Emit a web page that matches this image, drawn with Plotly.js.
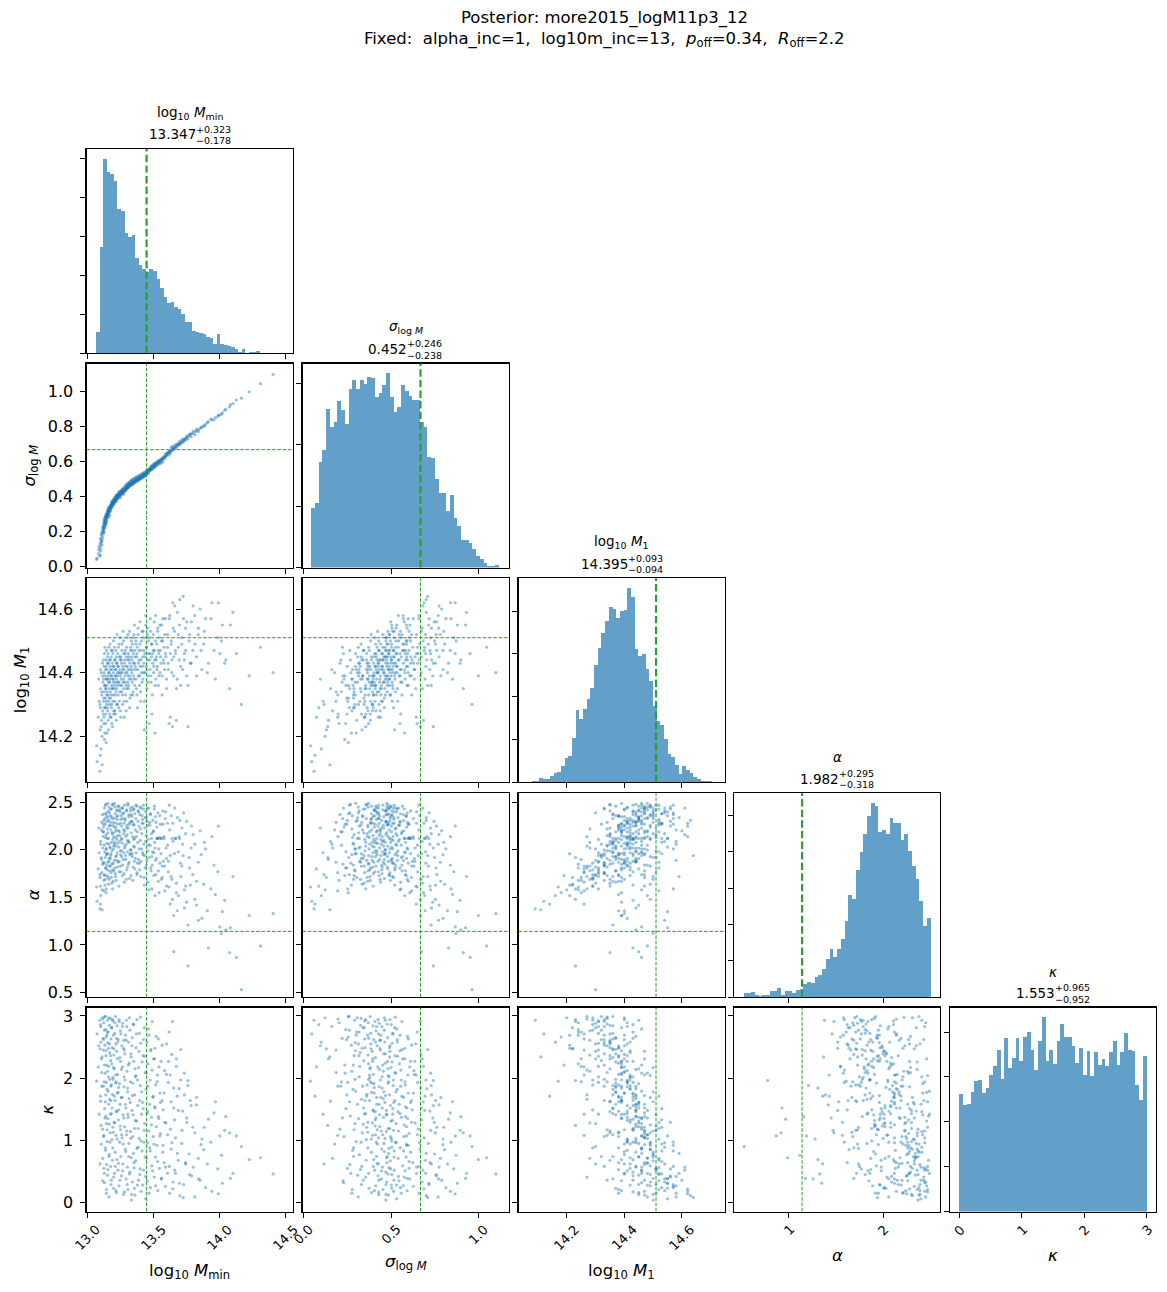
<!DOCTYPE html>
<html>
<head>
<meta charset="utf-8">
<script src="https://cdn.plot.ly/plotly-3.0.1.min.js"></script>
<style>
  html, body { margin: 0; padding: 0; background: #ffffff; }
  #chart { width: 1167px; height: 1292px; }
</style>
</head>
<body>
<div id="chart"></div>
<script>
// ---------------------------------------------------------------------------
// Parameters of the HOD fit (order of rows / columns in the corner plot)
// ---------------------------------------------------------------------------
const paramLabels = [
  'log<sub>10</sub> <i>M</i><sub>min</sub>',
  '<i>σ</i><sub>log <i>M</i></sub>',
  'log<sub>10</sub> <i>M</i><sub>1</sub>',
  '<i>α</i>',
  '<i>κ</i>'
];
const medianText = ['13.347', '0.452', '14.395', '1.982', '1.553'];
const upperErrText = ['+0.323', '+0.246', '+0.093', '+0.295', '+0.965'];
const lowerErrText = ['−0.178', '−0.238', '−0.094', '−0.318', '−0.952'];

// Reference (input) values, drawn as green dashed lines; κ has none
const truthValues = [13.447, 0.668, 14.510, 1.143, null];

// Axis limits: columns (x) and rows (y)
const colRanges = [[12.992, 14.552], [-0.005, 1.17], [14.032, 14.748], [0.426, 2.605], [-0.15, 3.15]];
const rowRanges = [null, [-0.005, 1.16], [14.055, 14.697], [0.45, 2.595], [-0.144, 3.135]];

// Tick positions and labels
const colTickVals = [[13.0, 13.5, 14.0, 14.5], [0.0, 0.5, 1.0], [14.2, 14.4, 14.6], [1, 2], [0, 1, 2, 3]];
const colTickText = [['13.0', '13.5', '14.0', '14.5'], ['0.0', '0.5', '1.0'], ['14.2', '14.4', '14.6'], ['1', '2'], ['0', '1', '2', '3']];
const rowTickVals = [null, [0.0, 0.2, 0.4, 0.6, 0.8, 1.0], [14.2, 14.4, 14.6], [0.5, 1.0, 1.5, 2.0, 2.5], [0, 1, 2, 3]];
const rowTickText = [null, ['0.0', '0.2', '0.4', '0.6', '0.8', '1.0'], ['14.2', '14.4', '14.6'], ['0.5', '1.0', '1.5', '2.0', '2.5'], ['0', '1', '2', '3']];

// ---------------------------------------------------------------------------
// 1-D marginal histograms: 50 equal bins between the given edges
// ---------------------------------------------------------------------------
const mminBinEdges = [13.065, 14.41];
const mminCounts = [53,272,499,466,460,442,369,365,308,298, 304,243,226,217,207,216,211,190,166,143,
  128,131,119,112,101,80,80,56,55,52, 49,40,38,24,49,24,20,18,15,10, 3,10,0,3,3,4,0,0,0,0];

const sigmaBinEdges = [0.044, 1.114];
const sigmaCounts = [97,106,172,192,258,230,238,272,257,234, 292,306,291,306,299,311,309,278,284,297,
  317,278,254,262,298,288,280,274,273,238, 230,181,179,144,121,121,93,118,80,68, 45,45,40,30,19,14,7,3,3,4];

const m1BinEdges = [14.078, 14.716];
const m1Counts = [3,3,10,8,8,15,22,24,38,57, 61,104,169,148,171,195,220,274,314,349,
  377,409,405,384,400,402,454,433,311,295, 300,265,237,178,143,134,101,66,59,40, 19,38,29,22,12,8,3,3,3,1];

const alphaBinEdges = [0.525, 2.503];
const alphaCounts = [11,11,14,5,3,5,5,18,16,25, 7,16,18,11,21,24,37,43,40,57,
  62,79,104,134,112,134,159,211,280,269, 349,398,450,497,534,525,453,461,450,492, 478,478,431,448,401,362,324,266,197,219];

const kappaBinEdges = [0.0, 3.0];
const kappaCounts = [261,237,239,266,290,292,263,275,304,324, 359,295,386,319,341,386,335,388,401,361,
  315,379,433,335,361,328,381,419,388,388, 368,332,364,304,357,301,355,326,339,324, 355,379,326,355,397,361,357,283,248,346];

// ---------------------------------------------------------------------------
// Thinned chain samples: [log10 Mmin, sigma_logM, log10 M1, alpha, kappa]
// grouped by log10 Mmin range
// ---------------------------------------------------------------------------
const chainLowMmin = [
  [13.072,0.048,14.12,1.46,2.71],[13.081,0.074,14.26,1.80,2.18],[13.088,0.112,14.31,1.97,1.42],
  [13.093,0.061,14.09,1.38,2.93],[13.095,0.131,14.22,1.71,2.47],[13.097,0.088,14.29,1.62,2.86],
  [13.099,0.155,14.35,2.09,1.63],[13.101,0.102,14.16,1.52,2.58],[13.104,0.178,14.40,2.21,0.94],
  [13.106,0.143,14.25,1.90,2.31],[13.108,0.196,14.33,1.76,1.87],[13.110,0.124,14.20,1.58,2.97],
  [13.113,0.209,14.43,2.37,1.18],[13.115,0.167,14.28,2.02,0.71],[13.117,0.221,14.37,2.19,2.64],
  [13.120,0.186,14.31,1.87,2.45],[13.121,0.232,14.38,2.24,1.06],[13.123,0.204,14.24,1.68,2.89],
  [13.124,0.251,14.42,2.31,0.55],[13.126,0.217,14.34,2.05,1.94],[13.127,0.262,14.29,1.74,2.77],
  [13.128,0.229,14.46,2.44,0.32],[13.130,0.243,14.36,1.98,1.51],[13.131,0.274,14.21,1.63,2.53],
  [13.133,0.238,14.39,2.27,2.08],[13.134,0.259,14.32,1.92,2.99],[13.136,0.281,14.41,2.13,0.84],
  [13.137,0.248,14.27,1.81,1.73],[13.139,0.268,14.44,2.48,1.39],[13.140,0.289,14.35,2.16,2.36],
  [13.141,0.256,14.18,1.55,2.66],[13.142,0.277,14.38,1.95,0.15],[13.143,0.294,14.30,2.01,1.27],
  [13.144,0.265,14.47,2.39,0.61],[13.145,0.285,14.33,1.84,2.21],
  [13.147,0.283,14.36,2.07,1.82],[13.148,0.301,14.41,2.30,0.98],[13.150,0.292,14.29,1.79,2.93],
  [13.151,0.310,14.45,2.34,0.44],[13.153,0.296,14.33,1.96,2.57],[13.154,0.315,14.39,2.18,1.35],
  [13.156,0.304,14.25,1.71,2.74],[13.158,0.318,14.43,2.41,2.02],[13.159,0.309,14.37,2.12,1.58],
  [13.161,0.322,14.31,1.88,2.19],[13.162,0.313,14.48,2.45,0.09],[13.164,0.326,14.35,1.69,2.85],
  [13.165,0.319,14.40,2.25,0.77],[13.167,0.331,14.27,1.83,1.66],[13.168,0.324,14.42,2.03,2.41],
  [13.170,0.336,14.38,2.36,1.12],[13.172,0.329,14.34,1.91,2.96],
  [13.174,0.333,14.44,2.29,0.58],[13.175,0.345,14.32,1.94,2.28],[13.177,0.338,14.39,2.21,1.87],
  [13.178,0.350,14.26,1.76,2.63],[13.180,0.342,14.47,2.43,0.36],[13.181,0.355,14.36,2.08,1.43],
  [13.183,0.347,14.30,1.65,2.81],[13.185,0.359,14.41,2.33,1.01],[13.186,0.352,14.35,1.99,2.49],
  [13.188,0.363,14.43,2.17,1.74],[13.189,0.356,14.23,1.59,2.94],[13.191,0.368,14.38,2.26,0.88],
  [13.192,0.361,14.46,2.47,1.21],[13.194,0.372,14.33,1.86,1.98],[13.196,0.366,14.40,2.14,2.69],
  [13.197,0.375,14.37,2.01,0.23],[13.199,0.369,14.28,1.78,2.37],
  [13.069,0.041,14.17,1.61,1.95],[13.084,0.097,14.38,2.23,2.52],
  [13.094,0.118,14.30,1.74,0.62],[13.097,0.066,14.14,1.43,1.71],[13.100,0.162,14.41,2.06,2.83],
  [13.103,0.139,14.23,1.92,1.24],[13.107,0.187,14.34,2.29,2.09],[13.110,0.151,14.11,1.37,2.34],
  [13.114,0.226,14.39,1.85,0.35],[13.118,0.198,14.27,2.14,2.95],
  [13.120,0.214,14.44,2.19,1.87],[13.122,0.247,14.32,2.27,2.62],[13.124,0.196,14.26,1.57,1.08],
  [13.126,0.271,14.40,1.86,0.47],[13.128,0.236,14.19,1.73,2.21],[13.130,0.258,14.36,2.38,2.99],
  [13.132,0.223,14.48,2.33,1.36],[13.134,0.286,14.29,1.69,0.88],[13.136,0.264,14.35,2.47,1.62],
  [13.138,0.241,14.24,1.81,2.78],[13.140,0.297,14.42,2.01,2.44],[13.142,0.253,14.31,1.59,1.93],
  [13.144,0.279,14.38,2.36,0.21],[13.146,0.301,14.21,1.96,2.69],
  [13.148,0.289,14.34,1.73,1.17],[13.150,0.318,14.43,2.12,2.74],[13.152,0.277,14.28,2.22,2.11],
  [13.154,0.326,14.38,1.87,0.53],[13.156,0.298,14.46,2.49,1.79],[13.158,0.335,14.22,1.64,2.48],
  [13.160,0.307,14.40,2.31,2.97],[13.162,0.286,14.32,2.06,0.74],[13.164,0.341,14.44,1.91,1.26],
  [13.166,0.314,14.30,2.39,2.55],[13.168,0.295,14.37,1.78,1.98],[13.170,0.329,14.49,2.26,0.97],
  [13.172,0.348,14.26,1.83,1.42],
  [13.174,0.317,14.41,2.02,2.36],[13.176,0.352,14.33,2.43,1.64],[13.178,0.331,14.45,1.96,0.29],
  [13.180,0.364,14.29,1.71,1.89],[13.182,0.339,14.39,2.35,2.81],[13.184,0.372,14.24,1.85,2.23],
  [13.186,0.344,14.47,2.18,1.52],[13.188,0.358,14.35,2.48,0.68],[13.190,0.379,14.42,1.79,2.01],
  [13.192,0.350,14.31,2.11,2.92],[13.194,0.367,14.38,1.67,1.13],[13.196,0.383,14.50,2.29,2.17],
  [13.198,0.356,14.27,2.04,0.41]
];

const chainMidLowMmin = [
  [13.201,0.368,14.42,2.24,1.29],[13.203,0.379,14.35,2.06,2.15],[13.204,0.372,14.48,2.49,0.47],
  [13.206,0.384,14.31,1.81,2.72],[13.208,0.377,14.39,2.19,1.64],[13.209,0.388,14.44,2.38,0.81],
  [13.211,0.381,14.27,1.72,2.99],[13.213,0.391,14.37,1.93,1.92],[13.214,0.385,14.41,2.28,2.55],
  [13.216,0.394,14.34,2.04,1.08],[13.218,0.389,14.45,2.21,0.16],[13.219,0.398,14.38,2.35,1.47],
  [13.221,0.392,14.30,1.89,2.43],[13.223,0.401,14.43,2.11,0.69],[13.224,0.396,14.36,1.97,2.84],
  [13.226,0.404,14.40,2.42,1.76],
  [13.228,0.398,14.39,2.15,2.06],[13.230,0.407,14.46,2.36,0.52],[13.232,0.401,14.33,1.87,2.62],
  [13.234,0.410,14.42,2.27,1.33],[13.236,0.404,14.37,2.03,1.85],[13.238,0.413,14.49,2.46,0.27],
  [13.240,0.408,14.31,1.77,2.91],[13.242,0.416,14.41,2.19,0.97],[13.244,0.411,14.36,2.09,2.33],
  [13.246,0.419,14.44,2.40,1.58],[13.248,0.414,14.28,1.83,2.76],[13.250,0.421,14.40,1.95,1.17],
  [13.252,0.417,14.45,2.32,0.74],
  [13.255,0.418,14.38,2.12,1.69],[13.257,0.426,14.43,2.25,0.43],[13.259,0.421,14.34,1.99,2.52],
  [13.261,0.429,14.47,2.44,1.04],[13.263,0.424,14.40,2.07,2.18],[13.265,0.432,14.30,1.73,2.88],
  [13.267,0.427,14.42,2.33,0.62],[13.269,0.435,14.37,1.90,1.41],[13.272,0.430,14.50,2.39,0.13],
  [13.274,0.438,14.35,2.17,2.61],[13.276,0.433,14.41,2.28,1.86],[13.278,0.440,14.26,1.66,2.45],
  [13.280,0.436,14.44,2.02,1.22],
  [13.283,0.439,14.39,2.20,1.97],[13.285,0.447,14.46,2.31,0.86],[13.287,0.442,14.33,1.94,2.69],
  [13.290,0.450,14.42,2.14,1.52],[13.292,0.445,14.36,2.06,0.38],[13.295,0.453,14.48,2.42,1.09],
  [13.297,0.448,14.31,1.79,2.83],[13.299,0.456,14.40,2.26,2.11],[13.302,0.451,14.44,1.98,0.57],
  [13.304,0.459,14.37,2.10,1.78],[13.306,0.454,14.52,2.47,0.21],
  [13.308,0.457,14.41,2.23,1.37],[13.310,0.464,14.35,1.85,2.58],[13.313,0.459,14.45,2.35,0.95],
  [13.315,0.467,14.38,2.08,2.24],[13.318,0.462,14.29,1.70,2.97],[13.320,0.470,14.43,2.29,0.49],
  [13.323,0.465,14.39,1.96,1.61],[13.325,0.473,14.47,2.41,1.14],[13.328,0.468,14.33,2.00,2.39],
  [13.330,0.475,14.42,2.18,0.72],[13.332,0.471,14.50,2.37,0.04],
  [13.201,0.386,14.36,2.33,2.47],[13.203,0.361,14.44,1.89,1.71],[13.206,0.394,14.28,2.08,1.28],
  [13.208,0.370,14.41,2.45,2.89],[13.210,0.399,14.33,1.75,0.58],[13.213,0.376,14.47,2.13,2.05],
  [13.215,0.405,14.39,2.24,0.19],[13.217,0.382,14.25,1.68,1.94],[13.219,0.373,14.43,1.94,2.64],
  [13.221,0.410,14.35,2.41,1.46],[13.224,0.387,14.52,2.32,1.02],[13.226,0.396,14.30,1.82,2.31],
  [13.229,0.412,14.42,2.07,2.58],[13.231,0.389,14.37,2.46,1.77],[13.234,0.421,14.48,2.20,0.63],
  [13.237,0.398,14.29,1.62,1.49],[13.239,0.426,14.40,1.88,2.94],[13.242,0.403,14.45,2.42,1.91],
  [13.245,0.431,14.34,2.15,0.36],[13.247,0.409,14.51,1.99,1.23],[13.250,0.395,14.39,2.28,2.27],
  [13.252,0.428,14.26,1.77,2.71],
  [13.256,0.434,14.44,2.36,2.14],[13.258,0.411,14.36,1.93,1.09],[13.261,0.441,14.49,2.11,1.69],
  [13.264,0.417,14.33,2.44,2.83],[13.266,0.446,14.41,1.84,0.51],[13.269,0.423,14.53,2.38,0.94],
  [13.272,0.437,14.38,2.21,2.48],[13.275,0.414,14.46,1.97,1.36],[13.277,0.449,14.31,1.75,2.02],
  [13.280,0.429,14.43,2.47,0.17],
  [13.283,0.458,14.37,2.04,2.39],[13.286,0.433,14.47,2.33,1.58],[13.289,0.462,14.40,1.90,0.82],
  [13.292,0.438,14.28,1.69,2.61],[13.295,0.467,14.45,2.41,2.93],[13.297,0.444,14.35,2.23,1.15],
  [13.300,0.471,14.51,2.16,0.29],[13.303,0.449,14.42,1.82,1.84],[13.306,0.476,14.39,2.49,1.42],
  [13.309,0.452,14.46,2.09,2.21],[13.312,0.478,14.36,2.37,0.74],[13.315,0.456,14.44,1.87,1.67],
  [13.318,0.483,14.53,2.27,0.46],[13.321,0.461,14.32,1.95,2.77],[13.324,0.487,14.41,2.44,1.94],
  [13.327,0.466,14.48,2.00,1.03],[13.330,0.492,14.38,1.73,2.34],[13.333,0.471,14.45,2.30,0.13]
];

const chainMidMmin = [
  [13.336,0.474,14.44,2.30,1.48],[13.338,0.480,14.37,1.93,2.65],[13.340,0.476,14.49,2.45,0.33],
  [13.342,0.483,14.41,2.14,1.92],[13.345,0.478,14.34,1.82,2.87],[13.347,0.486,14.46,2.27,0.79],
  [13.350,0.481,14.39,2.04,2.27],[13.352,0.489,14.52,2.43,0.56],[13.355,0.484,14.43,1.88,1.19],
  [13.357,0.491,14.36,2.12,1.73],[13.359,0.486,14.47,2.38,0.12],
  [13.362,0.489,14.42,2.21,2.02],[13.365,0.496,14.50,2.33,0.67],[13.368,0.491,14.38,1.97,2.49],
  [13.371,0.499,14.45,2.46,1.31],[13.374,0.494,14.33,1.76,2.94],[13.377,0.502,14.48,2.19,0.28],
  [13.380,0.497,14.41,2.08,1.56],[13.383,0.505,14.54,2.41,0.89],[13.386,0.500,14.39,1.90,2.17],
  [13.390,0.502,14.44,2.25,1.03],[13.393,0.509,14.36,1.86,2.72],[13.396,0.504,14.49,2.37,0.45],
  [13.399,0.512,14.42,2.10,1.88],[13.403,0.507,14.31,1.72,2.56],[13.406,0.515,14.47,2.44,0.18],
  [13.409,0.510,14.40,2.01,1.42],[13.413,0.518,14.53,2.28,0.83],
  [13.417,0.516,14.45,2.32,1.61],[13.420,0.523,14.38,1.95,2.36],[13.423,0.518,14.51,2.47,0.52],
  [13.427,0.526,14.43,2.06,0.97],[13.430,0.521,14.22,1.63,2.81],[13.433,0.529,14.46,2.23,1.27],
  [13.436,0.524,14.40,1.81,2.09],[13.440,0.532,14.55,2.40,0.06],
  [13.444,0.535,14.42,2.15,1.82],[13.447,0.541,14.48,2.34,0.71],[13.450,0.536,14.35,1.89,2.58],
  [13.453,0.545,14.52,2.26,0.35],[13.456,0.540,14.44,1.99,1.46],[13.459,0.548,14.39,2.11,2.23],
  [13.463,0.543,14.50,2.44,1.15],[13.466,0.551,14.24,1.58,2.69],
  [13.471,0.552,14.46,2.29,0.88],[13.474,0.558,14.41,2.05,1.97],[13.477,0.554,14.53,2.38,0.24],
  [13.481,0.563,14.37,1.78,2.46],[13.484,0.559,14.45,2.17,1.37],[13.487,0.567,14.49,1.93,0.59],
  [13.490,0.562,14.33,1.84,2.91],[13.494,0.571,14.43,2.31,1.69],
  [13.498,0.573,14.47,2.20,1.06],[13.501,0.579,14.40,1.97,2.31],[13.505,0.575,14.56,2.43,0.41],
  [13.508,0.583,14.44,2.08,1.54],[13.511,0.578,14.21,1.52,2.48],[13.514,0.586,14.50,2.35,0.73],
  [13.517,0.581,14.38,1.74,1.89],[13.521,0.589,14.45,1.91,1.22],
  [13.525,0.590,14.49,2.24,0.92],[13.528,0.596,14.42,2.12,2.05],[13.532,0.592,14.54,2.39,0.19],
  [13.536,0.599,14.36,1.67,2.63],[13.540,0.595,14.46,2.01,1.35],[13.544,0.603,14.51,2.13,0.55],
  [13.548,0.598,14.40,1.86,1.76],
  [13.552,0.603,14.47,2.27,1.11],[13.556,0.611,14.43,1.96,2.27],[13.560,0.607,14.55,2.12,0.38],
  [13.565,0.616,14.39,1.71,1.64],[13.569,0.612,14.50,2.41,0.81],[13.573,0.621,14.44,1.88,1.49],
  [13.579,0.624,14.48,2.14,0.64],[13.584,0.631,14.41,1.83,2.12],[13.589,0.627,14.57,2.33,0.26],
  [13.594,0.637,14.45,2.02,1.28],[13.599,0.641,14.35,1.62,2.55],
  [13.336,0.494,14.40,2.35,2.52],[13.339,0.468,14.47,1.96,1.72],[13.342,0.497,14.33,1.68,1.06],
  [13.345,0.473,14.51,2.42,1.41],[13.348,0.501,14.43,2.11,2.86],[13.352,0.477,14.38,2.26,0.64],
  [13.355,0.504,14.55,2.03,0.23],[13.359,0.482,14.45,1.80,2.15],
  [13.363,0.508,14.41,1.91,1.32],[13.367,0.484,14.49,2.47,2.04],[13.370,0.511,14.35,2.14,2.71],
  [13.374,0.488,14.46,1.74,0.87],[13.378,0.514,14.29,1.86,1.97],[13.382,0.492,14.52,2.30,1.19],
  [13.386,0.517,14.43,2.40,0.36],
  [13.390,0.494,14.47,2.01,2.43],[13.394,0.521,14.39,1.79,1.64],[13.397,0.498,14.56,2.45,0.54],
  [13.401,0.524,14.34,2.22,2.98],[13.405,0.503,14.44,1.88,0.99],[13.409,0.528,14.50,2.17,1.78],
  [13.413,0.506,14.37,2.36,2.26],
  [13.417,0.531,14.42,1.97,0.28],[13.421,0.510,14.53,2.28,1.51],[13.424,0.535,14.40,2.43,2.62],
  [13.428,0.514,14.47,1.71,1.16],[13.432,0.538,14.31,1.94,2.35],[13.436,0.517,14.45,2.34,0.73],
  [13.440,0.542,14.58,2.09,0.42],
  [13.445,0.525,14.48,1.84,2.08],[13.449,0.551,14.41,2.30,1.43],[13.453,0.529,14.54,2.44,0.96],
  [13.457,0.555,14.37,1.66,1.87],[13.461,0.533,14.46,2.05,2.79],[13.466,0.558,14.51,1.92,0.15],
  [13.471,0.547,14.44,2.26,1.58],[13.475,0.571,14.57,2.37,0.83],[13.479,0.551,14.39,1.81,2.44],
  [13.484,0.575,14.49,2.12,1.25],[13.488,0.556,14.27,1.59,2.13],[13.493,0.580,14.46,1.98,0.51],
  [13.498,0.562,14.52,2.19,1.71],[13.502,0.587,14.42,1.73,0.94],[13.506,0.566,14.47,2.46,2.31],
  [13.511,0.591,14.36,2.02,1.52],[13.515,0.570,14.58,1.89,0.27],[13.520,0.594,14.44,2.29,2.67],
  [13.526,0.579,14.41,2.12,1.94],[13.531,0.603,14.53,2.12,0.66],[13.536,0.583,14.47,1.78,1.38],
  [13.541,0.607,14.39,1.55,2.18],[13.547,0.588,14.55,2.36,1.07],
  [13.553,0.612,14.45,2.12,1.61],[13.559,0.592,14.50,1.69,0.39],[13.565,0.618,14.33,1.83,2.53],
  [13.571,0.598,14.57,2.27,0.92],
  [13.579,0.628,14.43,2.12,1.76],[13.585,0.617,14.52,1.57,1.29],[13.591,0.646,14.46,2.40,0.57],
  [13.598,0.633,14.38,1.91,2.06]
];

const chainHighMmin = [
  [13.606,0.645,14.52,2.28,0.47],[13.611,0.652,14.43,1.77,1.93],[13.617,0.649,14.24,1.61,2.74],
  [13.622,0.659,14.58,2.21,0.15],[13.627,0.655,14.46,1.94,1.18],
  [13.633,0.664,14.49,2.36,0.86],[13.638,0.671,14.40,1.69,2.38],[13.643,0.667,14.23,1.48,2.91],
  [13.648,0.677,14.54,2.09,0.33],[13.653,0.673,14.45,0.93,1.52],
  [13.660,0.682,14.61,2.44,0.52],[13.666,0.689,14.47,2.12,1.04],[13.672,0.685,14.25,1.55,2.19],
  [13.679,0.694,14.38,1.36,1.71],
  [13.687,0.697,14.52,1.98,0.68],[13.693,0.704,14.44,2.14,1.83],[13.699,0.701,14.63,2.31,0.11],
  [13.706,0.709,14.36,1.72,2.46],
  [13.714,0.713,14.49,1.83,0.95],[13.720,0.721,14.41,2.06,1.47],[13.727,0.717,14.57,2.39,0.29],
  [13.733,0.726,14.46,1.58,2.08],
  [13.742,0.730,14.54,2.17,0.62],[13.751,0.738,14.39,1.45,1.36],[13.760,0.741,14.23,0.78,1.96],
  [13.769,0.748,14.50,1.92,0.78],[13.778,0.754,14.43,1.63,1.64],[13.787,0.759,14.56,2.25,0.43],
  [13.797,0.761,14.47,1.74,1.21],[13.812,0.769,14.58,2.06,0.09],
  [13.825,0.774,14.45,1.42,1.57],[13.838,0.781,14.52,1.87,0.71],
  [13.853,0.789,14.60,2.20,0.36],[13.866,0.797,14.41,1.28,1.02],
  [13.606,0.651,14.48,2.05,1.09],[13.612,0.636,14.41,1.88,2.27],[13.619,0.659,14.57,2.47,0.58],
  [13.626,0.644,14.26,1.43,2.05],
  [13.633,0.683,14.50,1.72,1.62],[13.639,0.662,14.44,2.12,0.96],[13.645,0.688,14.62,2.28,0.22],
  [13.652,0.669,14.39,1.31,1.84],
  [13.659,0.674,14.53,1.96,1.33],[13.666,0.697,14.46,2.12,0.47],[13.673,0.679,14.35,1.65,2.31],
  [13.680,0.701,14.59,2.34,0.79],
  [13.688,0.692,14.48,1.52,1.48],[13.696,0.715,14.55,2.12,0.31],[13.705,0.699,14.42,1.86,1.97],
  [13.715,0.726,14.51,2.23,1.16],[13.724,0.709,14.64,1.94,0.08],[13.733,0.731,14.44,1.39,1.73],
  [13.743,0.722,14.47,1.62,0.64],[13.751,0.746,14.56,2.30,1.29],[13.760,0.729,14.36,1.21,1.88],
  [13.772,0.757,14.52,1.81,0.45],[13.785,0.741,14.43,2.02,1.56],
  [13.799,0.774,14.61,2.16,0.57],[13.813,0.753,14.49,1.48,1.12],
  [13.826,0.784,14.39,1.67,1.69],[13.840,0.771,14.54,1.26,0.38],
  [13.860,0.796,14.47,1.95,0.93]
];

const chainTailMmin = [
  [13.880,0.806,14.49,1.64,0.85],[13.893,0.813,14.57,2.01,0.24],[13.915,0.828,14.43,0.97,1.34],
  [13.941,0.839,14.62,2.14,0.18],[13.968,0.851,14.38,1.53,1.62],[13.986,0.858,14.51,1.77,0.54],
  [14.002,0.866,14.46,1.19,1.07],[14.021,0.878,14.55,1.35,0.31],[14.047,0.898,14.44,1.16,1.38],
  [14.075,0.912,14.35,0.92,1.12],[14.101,0.931,14.59,1.72,0.47],[14.165,0.962,14.30,0.53,0.90],
  [14.310,1.045,14.48,0.99,0.72],[14.405,1.098,14.40,1.33,0.46],
  [13.884,0.801,14.53,2.08,1.21],[13.907,0.822,14.40,1.36,0.62],[13.934,0.842,14.57,1.59,0.97],
  [13.957,0.838,14.47,1.84,1.44],[13.991,0.866,14.62,2.25,0.14],[14.014,0.871,14.50,1.12,0.76],
  [14.038,0.894,14.43,1.47,1.16],[14.082,0.925,14.55,1.18,0.39],[14.127,0.951,14.46,0.87,1.07],
  [14.224,0.998,14.39,1.31,0.69]
];

// ---------------------------------------------------------------------------
// Figure geometry (pixels)
// ---------------------------------------------------------------------------
const W = 1167, H = 1292;
const colLeft = [86.5, 302.5, 518.5, 734.3, 950.0];
const rowTop = [149.0, 363.5, 578.3, 793.3, 1007.5];
const boxW = 206, boxH = 204;

const BLUE_PT = 'rgba(31,119,180,0.45)';
const BLUE_BAR = 'rgba(31,119,180,0.7)';
const GREEN = '#2ca02c';
const FONT = 'DejaVu Sans, Verdana, sans-serif';

const chain = [].concat(chainLowMmin, chainMidLowMmin, chainMidMmin, chainHighMmin, chainTailMmin);
const column = k => chain.map(r => r[k]);
const samples = [0, 1, 2, 3, 4].map(column);

const hists = [
  {edges: mminBinEdges, counts: mminCounts},
  {edges: sigmaBinEdges, counts: sigmaCounts},
  {edges: m1BinEdges, counts: m1Counts},
  {edges: alphaBinEdges, counts: alphaCounts},
  {edges: kappaBinEdges, counts: kappaCounts}
];

const px2x = p => p / W;
const px2y = p => 1 - p / H;

function axisBase(extra) {
  return Object.assign({
    showline: true, mirror: true, linecolor: '#000', linewidth: 1.1,
    ticks: 'outside', ticklen: 5, tickwidth: 1, tickcolor: '#000',
    showgrid: false, zeroline: false, fixedrange: true,
    tickfont: {family: FONT, size: 16, color: '#000'}
  }, extra);
}

const traces = [], shapes = [], annotations = [];
const layout = {
  width: W, height: H,
  margin: {l: 0, r: 0, t: 0, b: 0},
  paper_bgcolor: '#fff', plot_bgcolor: '#fff',
  showlegend: false, bargap: 0,
  font: {family: FONT, color: '#000'}
};

// rough DejaVu Sans advance widths (em) for the numeric strings used here
const emWidth = s => s.split('').reduce((a, c) => a + (c === '.' ? 0.318 : (c === '+' || c === '−') ? 0.838 : 0.636), 0);

let n = 0;
for (let i = 0; i < 5; i++) {
  for (let j = 0; j <= i; j++) {
    n++;
    const xid = n === 1 ? 'x' : 'x' + n;
    const yid = n === 1 ? 'y' : 'y' + n;
    const xkey = n === 1 ? 'xaxis' : 'xaxis' + n;
    const ykey = n === 1 ? 'yaxis' : 'yaxis' + n;
    const xDom = [px2x(colLeft[j]), px2x(colLeft[j] + boxW)];
    const yDom = [px2y(rowTop[i] + boxH), px2y(rowTop[i])];

    layout[xkey] = axisBase({
      domain: xDom, range: colRanges[j], anchor: yid,
      tickmode: 'array', tickvals: colTickVals[j], showticklabels: false
    });

    if (i === j) {
      const h = hists[j];
      const nb = h.counts.length;
      const bw = (h.edges[1] - h.edges[0]) / nb;
      const centers = h.counts.map((_, k) => h.edges[0] + (k + 0.5) * bw);
      const ymax = Math.max.apply(null, h.counts) * 1.05;
      layout[ykey] = axisBase({
        domain: yDom, range: [0, ymax], anchor: xid,
        tickmode: 'linear', tick0: 0, dtick: 100, showticklabels: false
      });
      traces.push({
        type: 'bar', x: centers, y: h.counts, width: bw,
        xaxis: xid, yaxis: yid,
        marker: {color: BLUE_BAR, line: {width: 0}},
        hoverinfo: 'skip'
      });
      if (truthValues[j] !== null) {
        shapes.push({
          type: 'line', xref: xid, yref: yid + ' domain',
          x0: truthValues[j], x1: truthValues[j], y0: 0, y1: 1,
          line: {color: GREEN, width: 2.2, dash: '7.4px,3.2px'}
        });
      }
      // panel title: parameter name and median with asymmetric errors
      const cx = colLeft[j] + boxW / 2;
      annotations.push({
        xref: 'paper', yref: 'paper', x: px2x(cx), y: px2y(rowTop[j] - 36),
        xanchor: 'center', yanchor: 'middle', showarrow: false,
        text: paramLabels[j], font: {family: FONT, size: 13.5, color: '#000'}
      });
      const mainW = emWidth(medianText[j]) * 13.5;
      const supW = Math.max(emWidth(upperErrText[j]), emWidth(lowerErrText[j])) * 9.5;
      const jx = cx - (mainW + supW) / 2 + mainW;
      annotations.push({
        xref: 'paper', yref: 'paper', x: px2x(jx + 2), y: px2y(rowTop[j] - 14.5),
        xanchor: 'right', yanchor: 'middle', showarrow: false,
        text: medianText[j], font: {family: FONT, size: 13.5, color: '#000'}
      });
      annotations.push({
        xref: 'paper', yref: 'paper', x: px2x(jx - 2), y: px2y(rowTop[j] - 19.5),
        xanchor: 'left', yanchor: 'middle', showarrow: false,
        text: upperErrText[j], font: {family: FONT, size: 9.5, color: '#000'}
      });
      annotations.push({
        xref: 'paper', yref: 'paper', x: px2x(jx - 2), y: px2y(rowTop[j] - 8.5),
        xanchor: 'left', yanchor: 'middle', showarrow: false,
        text: lowerErrText[j], font: {family: FONT, size: 9.5, color: '#000'}
      });
    } else {
      layout[ykey] = axisBase({
        domain: yDom, range: rowRanges[i], anchor: xid,
        tickmode: 'array', tickvals: rowTickVals[i], ticktext: rowTickText[i],
        showticklabels: j === 0, ticklabelstandoff: 4
      });
      traces.push({
        type: 'scatter', mode: 'markers',
        x: samples[j], y: samples[i], xaxis: xid, yaxis: yid,
        marker: {size: 3.2, color: BLUE_PT, line: {width: 0}},
        hoverinfo: 'skip', cliponaxis: true
      });
      if (truthValues[j] !== null) {
        shapes.push({
          type: 'line', xref: xid, yref: yid + ' domain',
          x0: truthValues[j], x1: truthValues[j], y0: 0, y1: 1,
          line: {color: GREEN, width: 1, dash: '3.7px,1.6px'}
        });
      }
      if (truthValues[i] !== null) {
        shapes.push({
          type: 'line', xref: xid + ' domain', yref: yid,
          x0: 0, x1: 1, y0: truthValues[i], y1: truthValues[i],
          line: {color: GREEN, width: 1, dash: '3.7px,1.6px'}
        });
      }
    }
  }
}

// rotated tick labels under the bottom row, centred on their ticks
const bottomTop = rowTop[4] + boxH + 10.5;
for (let j = 0; j < 5; j++) {
  const r = colRanges[j];
  colTickVals[j].forEach((v, k) => {
    const txt = colTickText[j][k];
    const px = colLeft[j] + (v - r[0]) / (r[1] - r[0]) * boxW;
    const half = (emWidth(txt) * 13 + 15) * 0.7071 / 2;
    annotations.push({
      xref: 'paper', yref: 'paper', x: px2x(px), y: px2y(bottomTop + half),
      xanchor: 'center', yanchor: 'middle', showarrow: false, textangle: -45,
      text: txt, font: {family: FONT, size: 13, color: '#000'}
    });
  });
}

// axis labels: bottom row (x) and left column (y)
const xLabelY = [1271, 1262, 1271, 1255, 1255];
for (let j = 0; j < 5; j++) {
  annotations.push({
    xref: 'paper', yref: 'paper', x: px2x(colLeft[j] + boxW / 2), y: px2y(xLabelY[j]),
    xanchor: 'center', yanchor: 'middle', showarrow: false,
    text: paramLabels[j], font: {family: FONT, size: 16.5, color: '#000'}
  });
}
const yLabelX = [null, 30, 21, 33, 47];
for (let i = 1; i < 5; i++) {
  annotations.push({
    xref: 'paper', yref: 'paper', x: px2x(yLabelX[i]), y: px2y(rowTop[i] + boxH / 2),
    xanchor: 'center', yanchor: 'middle', showarrow: false, textangle: -90,
    text: paramLabels[i], font: {family: FONT, size: 16.5, color: '#000'}
  });
}

// figure title
annotations.push({
  xref: 'paper', yref: 'paper', x: px2x(604), y: px2y(18),
  xanchor: 'center', yanchor: 'middle', showarrow: false,
  text: 'Posterior: more2015_logM11p3_12',
  font: {family: FONT, size: 16.5, color: '#000'}
});
annotations.push({
  xref: 'paper', yref: 'paper', x: px2x(604), y: px2y(39),
  xanchor: 'center', yanchor: 'middle', showarrow: false,
  text: 'Fixed:  alpha_inc=1,  log10m_inc=13,  <i>p</i><sub>off</sub>=0.34,  <i>R</i><sub>off</sub>=2.2',
  font: {family: FONT, size: 16.5, color: '#000'}
});

layout.shapes = shapes;
layout.annotations = annotations;

Plotly.newPlot('chart', traces, layout, {staticPlot: true, displayModeBar: false});
</script>
</body>
</html>
